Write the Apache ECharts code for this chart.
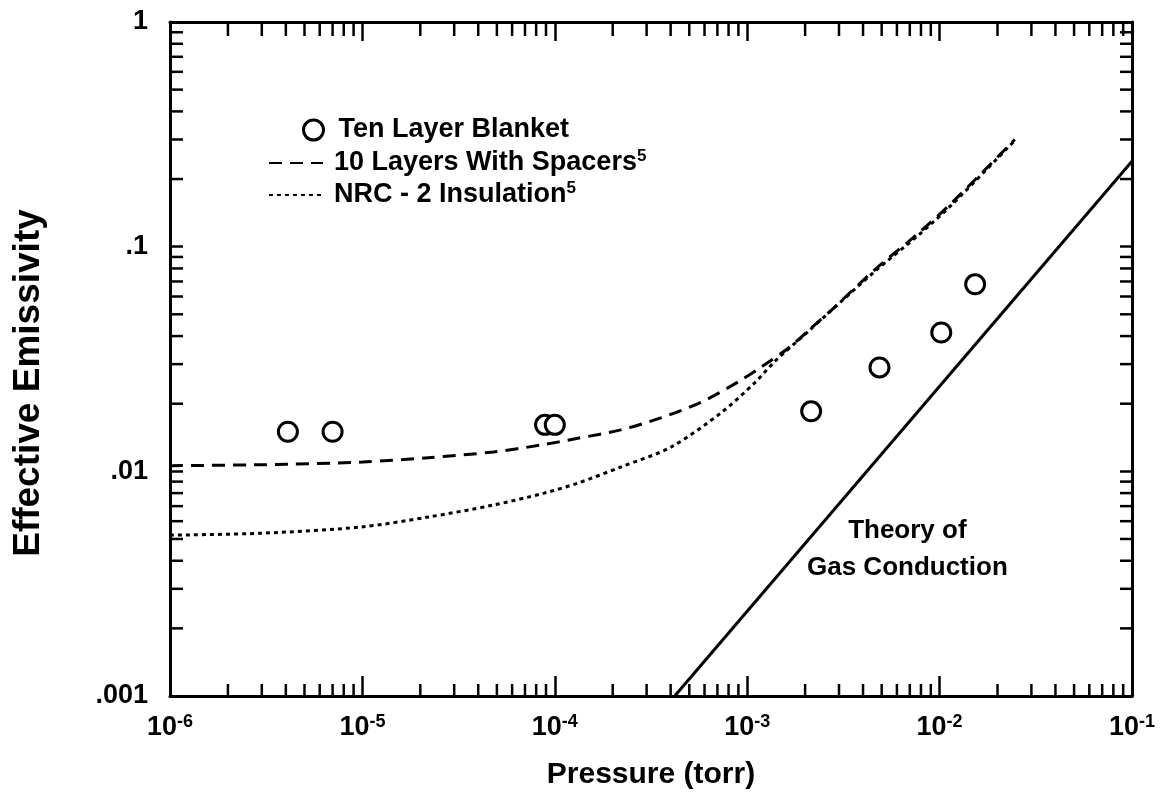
<!DOCTYPE html>
<html>
<head>
<meta charset="utf-8">
<script src="https://cdn.jsdelivr.net/npm/echarts@6/dist/echarts.min.js"></script>
<style>
html,body{margin:0;padding:0;background:#fff;}
#chart{width:1172px;height:808px;}
</style>
</head>
<body>
<div id="chart"></div>
<script>
// ---- data ----
const blanketP = [4.1e-6, 7.0e-6, 8.9e-5, 1.0e-4, 2.15e-3, 4.87e-3, 1.02e-2, 1.53e-2];
const blanketE = [0.0150, 0.0150, 0.0161, 0.0161, 0.0185, 0.0290, 0.0415, 0.0680];

const spacersP = [1e-6, 3e-6, 1e-5, 2.2e-5, 4.8e-5, 8.5e-5, 1.3e-4, 2.2e-4, 3.56e-4, 5.75e-4, 8.97e-4, 1.18e-3, 1.64e-3, 2.15e-3, 2.74e-3, 4.58e-3, 7.78e-3, 1.15e-2, 2.46e-2];
const spacersE = [0.0106, 0.0107, 0.0110, 0.0115, 0.0122, 0.0131, 0.0140, 0.0153, 0.0173, 0.0203, 0.0250, 0.0291, 0.0354, 0.0434, 0.0522, 0.0787, 0.115, 0.156, 0.300];

const nrcP = [1e-6, 2.95e-6, 9.8e-6, 2.2e-5, 4.8e-5, 8.8e-5, 1.32e-4, 2.2e-4, 4.0e-4, 7.3e-4, 1.09e-3, 1.4e-3, 2.08e-3, 2.7e-3, 4.6e-3, 7.8e-3, 1.15e-2, 2.45e-2];
const nrcE = [0.0052, 0.0053, 0.00565, 0.00626, 0.00708, 0.0080, 0.00887, 0.01045, 0.0128, 0.0182, 0.0247, 0.0310, 0.0420, 0.0515, 0.0775, 0.113, 0.153, 0.296];

const theoryP = [4.2e-4, 1e-1];
const theoryE = [0.001, 0.24];

const seriesNames = ['Ten Layer Blanket', '10 Layers With Spacers', 'NRC - 2 Insulation'];
const xTickExponents = ['-6', '-5', '-4', '-3', '-2', '-1'];
const yTickLabels = ['.001', '.01', '.1', '1'];
const xDecades = [1e-6, 1e-5, 1e-4, 1e-3, 1e-2];
const yDecades = [1e-3, 1e-2, 1e-1];
const minorMultipliers = [2, 3, 4, 5, 6, 7, 8, 9];
const annotationText = 'Theory of\nGas Conduction';
const annotationAt = [6.8e-3, 0.0045];

const X_MIN = 1e-6, X_MAX = 1e-1, Y_MIN = 1e-3, Y_MAX = 1;

const xMinor = [];
xDecades.forEach(d => minorMultipliers.forEach(m => xMinor.push(+(d * m).toPrecision(3))));
const yMinor = [];
yDecades.forEach(d => minorMultipliers.forEach(m => yMinor.push(+(d * m).toPrecision(3))));

const zip = (a, b) => a.map((v, i) => [v, b[i]]);
const FONT = "'Liberation Sans', Arial, Helvetica, sans-serif";
const BLACK = '#000';

const chart = echarts.init(document.getElementById('chart'), null, {renderer: 'canvas'});

function tickLine(x1, y1, x2, y2) {
  return {type: 'line', shape: {x1, y1, x2, y2}, style: {stroke: BLACK, lineWidth: 2.5}};
}

const option = {
  animation: false,
  backgroundColor: '#fff',
  grid: {left: 170, right: 40, top: 22, bottom: 112, containLabel: false},
  legend: [
    {
      data: [seriesNames[0]],
      left: 302, top: 115, padding: 0,
      itemWidth: 20, itemHeight: 20,
      selectedMode: false,
      itemStyle: {color: '#fff', borderColor: BLACK, borderWidth: 3},
      textStyle: {color: BLACK, fontSize: 27, fontWeight: 'bold', fontFamily: FONT, lineHeight: 30, padding: [0, 0, 0, 10]}
    },
    {
      data: [seriesNames[1], seriesNames[2]],
      orient: 'vertical',
      left: 268, top: 148, padding: 0,
      itemWidth: 54, itemHeight: 14, itemGap: 2,
      selectedMode: false,
      itemStyle: {color: 'transparent', borderColor: 'transparent', borderWidth: 0, opacity: 0},
      formatter: name => '{a|' + name + '}{s|5}',
      textStyle: {
        color: BLACK, fontFamily: FONT, fontWeight: 'bold', fontSize: 27, lineHeight: 30, padding: [0, 0, 0, 6],
        rich: {
          a: {fontSize: 27, fontWeight: 'bold', fontFamily: FONT, color: BLACK, lineHeight: 30},
          s: {fontSize: 17, fontWeight: 'bold', fontFamily: FONT, color: BLACK, verticalAlign: 'top', lineHeight: 17}
        }
      }
    }
  ],
  xAxis: [
    {
      type: 'log', logBase: 10, min: X_MIN, max: X_MAX, position: 'bottom',
      name: 'Pressure (torr)', nameLocation: 'middle', nameGap: 64,
      nameTextStyle: {color: BLACK, fontSize: 30, fontWeight: 'bold', fontFamily: FONT},
      axisLine: {show: true, lineStyle: {color: BLACK, width: 3}},
      axisTick: {show: true, inside: true, length: 20, lineStyle: {color: BLACK, width: 2.5}},
      minorTick: {show: false},
      splitLine: {show: false},
      axisLabel: {
        margin: 17,
        formatter: (v, i) => '{a|10}{s|' + xTickExponents[i] + '}',
        rich: {
          a: {fontSize: 27, fontWeight: 'bold', fontFamily: FONT, color: BLACK, lineHeight: 30},
          s: {fontSize: 18, fontWeight: 'bold', fontFamily: FONT, color: BLACK, verticalAlign: 'top', lineHeight: 18}
        }
      }
    },
    {
      type: 'log', logBase: 10, min: X_MIN, max: X_MAX, position: 'top',
      axisLine: {show: true, lineStyle: {color: BLACK, width: 3}},
      axisTick: {show: true, inside: true, length: 19, lineStyle: {color: BLACK, width: 2.5}},
      axisLabel: {show: false},
      splitLine: {show: false}
    }
  ],
  yAxis: [
    {
      type: 'log', logBase: 10, min: Y_MIN, max: Y_MAX, position: 'left',
      name: 'Effective Emissivity', nameLocation: 'middle', nameGap: 123, nameRotate: 90,
      nameTextStyle: {color: BLACK, fontSize: 37, fontWeight: 'bold', fontFamily: FONT, padding: [0, 48, 0, 0]},
      axisLine: {show: true, lineStyle: {color: BLACK, width: 3}},
      axisTick: {show: true, inside: true, length: 13, lineStyle: {color: BLACK, width: 2.5}},
      splitLine: {show: false},
      axisLabel: {
        margin: 22, color: BLACK, fontSize: 27, fontWeight: 'bold', fontFamily: FONT,
        formatter: (v, i) => yTickLabels[i]
      }
    },
    {
      type: 'log', logBase: 10, min: Y_MIN, max: Y_MAX, position: 'right',
      axisLine: {show: true, lineStyle: {color: BLACK, width: 3}},
      axisTick: {show: true, inside: true, length: 12, lineStyle: {color: BLACK, width: 2.5}},
      axisLabel: {show: false},
      splitLine: {show: false}
    }
  ],
  tooltip: {show: false},
  series: [
    {
      name: seriesNames[0], type: 'scatter', xAxisIndex: 0, yAxisIndex: 0,
      data: zip(blanketP, blanketE),
      symbol: 'circle', symbolSize: 19,
      itemStyle: {color: '#fff', borderColor: BLACK, borderWidth: 3, opacity: 1},
      z: 5, silent: true
    },
    {
      name: seriesNames[1], type: 'line', xAxisIndex: 0, yAxisIndex: 0,
      data: zip(spacersP, spacersE),
      smooth: 0.3, symbol: 'none', showSymbol: false,
      lineStyle: {color: BLACK, width: 3, type: [13, 8]},
      itemStyle: {color: BLACK},
      silent: true
    },
    {
      name: seriesNames[2], type: 'line', xAxisIndex: 0, yAxisIndex: 0,
      data: zip(nrcP, nrcE),
      smooth: 0.3, symbol: 'none', showSymbol: false,
      lineStyle: {color: BLACK, width: 3, type: [4, 4]},
      itemStyle: {color: BLACK},
      silent: true
    },
    {
      name: 'Theory of Gas Conduction', type: 'line', xAxisIndex: 0, yAxisIndex: 0,
      data: zip(theoryP, theoryE),
      symbol: 'none', showSymbol: false,
      lineStyle: {color: BLACK, width: 3, type: 'solid'},
      silent: true,
      markPoint: {
        symbol: 'circle', symbolSize: 1, silent: true,
        itemStyle: {color: 'transparent'},
        label: {
          show: true, position: 'inside', formatter: annotationText, color: BLACK, fontSize: 26, fontWeight: 'bold',
          fontFamily: FONT, lineHeight: 37, align: 'center', verticalAlign: 'middle'
        },
        data: [{coord: annotationAt}]
      }
    },
    {
      name: 'xMinorTicks', type: 'custom', xAxisIndex: 0, yAxisIndex: 0, clip: false, silent: true,
      data: xMinor.map(v => [v, Y_MIN]),
      renderItem: (params, api) => {
        const v = api.value(0);
        const b = api.coord([v, Y_MIN]);
        const t = api.coord([v, Y_MAX]);
        return {type: 'group', children: [
          tickLine(b[0], b[1], b[0], b[1] - 12),
          tickLine(t[0], t[1], t[0], t[1] + 14)
        ]};
      }
    },
    {
      name: 'yMinorTicks', type: 'custom', xAxisIndex: 0, yAxisIndex: 0, clip: false, silent: true,
      data: yMinor.map(v => [X_MIN, v]),
      renderItem: (params, api) => {
        const v = api.value(1);
        const l = api.coord([X_MIN, v]);
        const r = api.coord([X_MAX, v]);
        return {type: 'group', children: [
          tickLine(l[0], l[1], l[0] + 13, l[1]),
          tickLine(r[0], r[1], r[0] - 12, r[1])
        ]};
      }
    }
  ]
};

chart.setOption(option);
</script>
</body>
</html>
